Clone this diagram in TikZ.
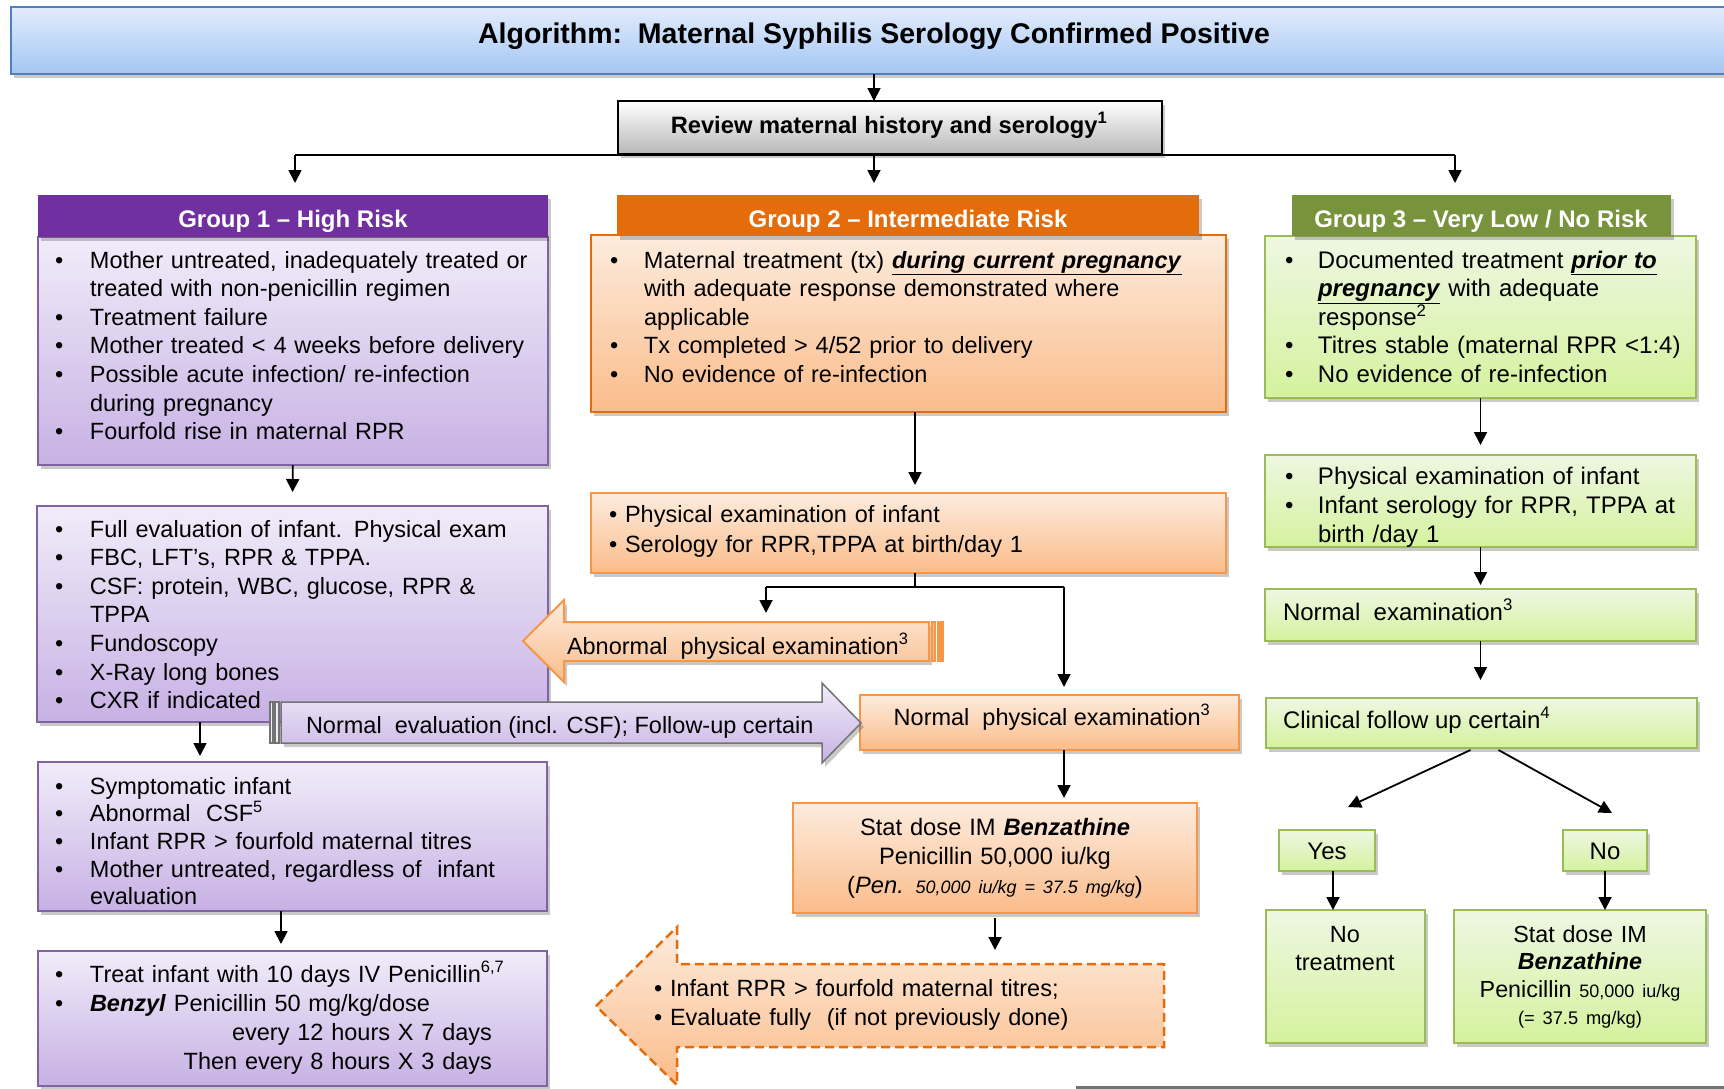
\documentclass[tikz,border=0pt]{standalone}
\usepackage{fontspec}
\setmainfont{Liberation Sans}
\usetikzlibrary{shadows,arrows.meta}
\definecolor{ttop}{RGB}{226,236,252}
\definecolor{tbot}{RGB}{164,198,244}
\definecolor{tbrd}{RGB}{79,129,189}
\definecolor{phead}{RGB}{112,48,160}
\definecolor{ptop}{RGB}{241,236,249}
\definecolor{pbot}{RGB}{199,177,228}
\definecolor{pbrd}{RGB}{128,100,162}
\definecolor{ohead}{RGB}{228,108,10}
\definecolor{otop}{RGB}{253,236,222}
\definecolor{obot}{RGB}{250,188,138}
\definecolor{obrd}{RGB}{228,108,10}
\definecolor{olt}{RGB}{247,150,70}
\definecolor{ghead}{RGB}{119,147,60}
\definecolor{gtop}{RGB}{238,247,226}
\definecolor{gbot}{RGB}{212,242,158}
\definecolor{gbrd}{RGB}{155,187,89}
\newlength\bind
\setlength\bind{35pt}
\newcommand\bfirst[1]{\noindent\hangindent=\bind\hangafter=1\makebox[\bind][l]{\textbullet}\rule{0pt}{22pt}#1}
\newcommand\bitem[1]{\par\bfirst{#1}}
\newcommand\rline[1]{\par\noindent\makebox[437pt][r]{#1}}
\newcommand\mkbox[6]{\node[#2,minimum width={(#5)-(#3)},minimum height={(#6)-(#4)}] (#1) at ({((#3)+(#5))/2},{((#4)+(#6))/2}) {};}
\newcommand\fsb{\fontsize{23.5}{28.6}\selectfont}
\newcommand\fsg{\fontsize{24}{28.6}\selectfont}
\newcommand\fsh{\fontsize{24}{28}\selectfont\bfseries}
\begin{document}
\begin{tikzpicture}[x=1pt,y=-1pt,
  base/.style={rectangle,inner sep=0pt,outer sep=0pt},
  shad/.style={drop shadow={shadow xshift=3pt,shadow yshift=-4pt,opacity=.3,fill=black!70}},
  pbody/.style={base,shad,draw=pbrd,line width=2pt,top color=ptop,bottom color=pbot},
  obody/.style={base,shad,draw=olt,line width=2pt,top color=otop,bottom color=obot},
  gbody/.style={base,shad,draw=gbrd,line width=2pt,top color=gtop,bottom color=gbot},
  txt/.style={anchor=north west,inner sep=0pt,outer sep=0pt,text width=640pt,align=left,font=\fsb},
  ltxt/.style={inner sep=0pt,outer sep=0pt,font=\fsb},
  htxt/.style={anchor=base,inner sep=0pt,text=white,font=\fsh},
  arr/.style={line width=1.8pt,-{Triangle[length=13pt,width=13pt]}},
  ln/.style={line width=1.8pt}]
\useasboundingbox (0,0) rectangle (1724,1088);
\clip (0,0) rectangle (1724,1088);

% title and review
\mkbox{title}{base,shad,draw=tbrd,line width=2pt,top color=ttop,bottom color=tbot}{11}{7}{1760}{74}
\node[anchor=base,inner sep=0pt,font=\fontsize{28.5}{32}\selectfont\bfseries] (titlet) at (874,43) {Algorithm:\ \ Maternal Syphilis Serology Confirmed Positive};
\mkbox{review}{base,shad,draw=black,line width=2pt,top color=white,bottom color=black!28}{618}{101}{1162}{154}
\node[anchor=base,inner sep=0pt,font=\fontsize{23.7}{28}\selectfont\bfseries] (reviewt) at (889,133) {Review maternal history and serology\textsuperscript{1}};

% group bodies and headers
\mkbox{g1b}{pbody}{37.5}{237}{548}{465}
\mkbox{g1h}{base,shad,fill=phead}{37.5}{195}{548}{237}
\node[htxt] (g1ht) at (293,227) {Group 1 -- High Risk};
\mkbox{g2b}{obody,draw=obrd}{591}{235}{1226}{412}
\mkbox{g2h}{base,shad,fill=ohead}{617}{195}{1199}{236}
\node[htxt] (g2ht) at (908,227) {Group 2 -- Intermediate Risk};
\mkbox{g3b}{gbody}{1265}{236}{1696}{398}
\mkbox{g3h}{base,shad,fill=ghead}{1292}{195}{1671}{236}
\node[htxt] (g3ht) at (1481,227) {Group 3 -- Very Low / No Risk};

\node[txt] (g1t) at (55,246) {%
\bfirst{Mother untreated, inadequately treated or\newline treated with non-penicillin regimen}
\bitem{Treatment failure}
\bitem{Mother treated < 4 weeks before delivery}
\bitem{Possible acute infection/ re-infection\newline during pregnancy}
\bitem{Fourfold rise in maternal RPR}\par};

\node[txt] (g2t) at (610,246) {\setlength\bind{34pt}%
\bfirst{Maternal treatment (tx) \underline{\textbf{\textit{during current pregnancy}}}\newline with adequate response demonstrated where\newline applicable}
\bitem{Tx completed > 4/52 prior to delivery}
\bitem{No evidence of re-infection}\par};

\node[txt,font=\fsg] (g3t) at (1285,246) {\setlength\bind{33pt}%
\bfirst{Documented treatment \underline{\textbf{\textit{prior to}}}\newline \underline{\textbf{\textit{pregnancy}}} with adequate\newline response\textsuperscript{2}}
\bitem{Titres stable (maternal RPR <1:4)}
\bitem{No evidence of re-infection}\par};

% group 1 column
\mkbox{fe}{pbody}{37}{506}{548}{722}
\node[txt] (fet) at (55,515) {%
\bfirst{Full evaluation of infant. Physical exam}
\bitem{FBC, LFT’s, RPR \& TPPA.}
\bitem{CSF: protein, WBC, glucose, RPR \&\newline TPPA}
\bitem{Fundoscopy}
\bitem{X-Ray long bones}
\bitem{CXR if indicated}\par};
\mkbox{sym}{pbody}{37.5}{762}{547}{911}
\node[txt,font=\fontsize{23.5}{27.7}\selectfont] (symt) at (55,772) {%
\bfirst{Symptomatic infant}
\bitem{Abnormal\ \ CSF\textsuperscript{5}}
\bitem{Infant RPR > fourfold maternal titres}
\bitem{Mother untreated, regardless of\ \ infant\newline evaluation}\par};
\mkbox{treat}{pbody}{37.5}{951}{547}{1086}
\node[txt,font=\fontsize{23.5}{29}\selectfont] (treatt) at (55,960) {%
\bfirst{Treat infant with 10 days IV Penicillin\textsuperscript{6,7}}
\bitem{\textbf{\textit{Benzyl}} Penicillin 50 mg/kg/dose}
\rline{every 12 hours X 7 days}
\rline{Then every 8 hours X 3 days}\par};

% group 2 column
\mkbox{g2p}{obody}{591}{493}{1226}{573}
\node[txt,font=\fontsize{23.5}{30}\selectfont] (g2pt) at (609,500) {\rule{0pt}{22pt}\textbullet\ Physical examination of infant\newline\textbullet\ Serology for RPR,TPPA at birth/day 1};
\mkbox{nphys}{obody}{860}{695}{1239}{750}
\node[ltxt,anchor=base] (nphyst) at (1052,725) {Normal\ \ physical examination\textsuperscript{3}};
\mkbox{stat2}{obody}{793}{803}{1197}{913}
\node[anchor=north,inner sep=0pt,text width=400pt,align=center,font=\fontsize{23.7}{29}\selectfont] (stat2t) at (995,813) {\rule{0pt}{22pt}Stat dose IM \textbf{\textit{Benzathine}}\\Penicillin 50,000 iu/kg\\(\textit{Pen.} {\fontsize{18}{20}\selectfont\textit{50,000 iu/kg = 37.5 mg/kg}})};

% abnormal arrow
\path[draw=olt,line width=2pt,top color=otop,bottom color=obot,shad] (523,641) -- (564,600) -- (564,622) -- (929,622) -- (929,661) -- (564,661) -- (564,682) -- cycle;
\path[draw=olt,line width=1.5pt,fill=obot] (932,622) rectangle (935,661);
\path[draw=olt,line width=1.5pt,fill=olt] (938,622) rectangle (943,661);
\node[ltxt,anchor=base west] (abnt) at (567,654) {Abnormal\ \ physical examination\textsuperscript{3}};
\coordinate (abtop) at (766,622);

% normal evaluation arrow
\path[draw=black!55,line width=1.5pt,top color=ptop,bottom color=pbot,shad] (281,702) -- (822,702) -- (822,683) -- (861,723) -- (822,763) -- (822,743) -- (281,743) -- cycle;
\path[draw=black!55,line width=1.2pt,fill=ptop] (270,702) rectangle (273,743);
\path[draw=black!55,line width=1.2pt,fill=ptop] (275,702) rectangle (279,743);
\node[ltxt,anchor=base west] (nevt) at (306,733) {Normal\ \ evaluation (incl. CSF); Follow-up certain};

% dashed arrow
\path[draw=ohead,line width=2.5pt,dash pattern=on 9pt off 5pt,top color=otop,bottom color=obot] (596,1006) -- (677,927) -- (677,964) -- (1164,964) -- (1164,1047) -- (677,1047) -- (677,1085) -- cycle;
\node[txt,font=\fontsize{23.5}{29}\selectfont] (dasht) at (654,974) {\rule{0pt}{22pt}\textbullet\ Infant RPR > fourfold maternal titres;\newline\textbullet\ Evaluate fully\ \ (if not previously done)};
\coordinate (dtop) at (995,964);

% group 3 column
\mkbox{g3p}{gbody}{1265}{455}{1696}{547}
\node[txt,font=\fontsize{24}{29}\selectfont] (g3pt) at (1285,462) {\setlength\bind{33pt}%
\bfirst{Physical examination of infant}
\bitem{Infant serology for RPR, TPPA at\newline birth /day 1}\par};
\mkbox{nexam}{gbody}{1265}{589}{1696}{641}
\node[ltxt,anchor=base west,font=\fsg] (nexamt) at (1283,620) {Normal\ \ examination\textsuperscript{3}};
\mkbox{clin}{gbody}{1266}{698}{1697}{748}
\node[ltxt,anchor=base west,font=\fsg] (clint) at (1283,728) {Clinical follow up certain\textsuperscript{4}};
\mkbox{yes}{gbody}{1279}{830}{1375}{871}
\node[ltxt,anchor=base,font=\fsg] (yest) at (1327,859) {Yes};
\mkbox{no}{gbody}{1563}{830}{1647}{871}
\node[ltxt,anchor=base,font=\fsg] (not) at (1605,859) {No};
\mkbox{notreat}{gbody}{1266}{910}{1425}{1043}
\node[anchor=north,inner sep=0pt,text width=150pt,align=center,font=\fontsize{23.5}{28}\selectfont] (notreatt) at (1345,920) {\rule{0pt}{22pt}No\\treatment};
\mkbox{stat3}{gbody}{1454}{910}{1706}{1043}
\node[anchor=north,inner sep=0pt,text width=250pt,align=center,font=\fontsize{23.3}{27.5}\selectfont] (stat3t) at (1580,920) {\rule{0pt}{22pt}Stat dose IM\\\textbf{\textit{Benzathine}}\\Penicillin {\fontsize{18}{20}\selectfont 50,000 iu/kg}\\{\fontsize{18.3}{20}\selectfont (= 37.5 mg/kg)}};

% bottom rule
\draw[line width=3pt,black!55] (1076,1087) -- (1724,1087);

% connectors
\coordinate (cT) at (874,0);
\coordinate (s1) at (295,155);
\coordinate (s3) at (1455,155);
\draw[arr] (title.south -| cT) -- (review.north -| cT);
\draw[ln] (s1) -- (s3);
\draw[arr,shorten >=12pt] (s1) -- (s1 |- g1h.north);
\draw[arr,shorten >=12pt] (review.south -| cT) -- (cT |- g2h.north);
\draw[arr,shorten >=12pt] (s3) -- (s3 |- g3h.north);

\draw[arr,shorten >=14pt] (g1b.south) -- (fe.north);
\coordinate (c200) at (200,0);
\draw[arr,shorten >=6pt] (fe.south -| c200) -- (sym.north -| c200);
\coordinate (c281) at (281,0);
\draw[arr,shorten >=7pt] (sym.south -| c281) -- (treat.north -| c281);

\coordinate (c915) at (915,587);
\coordinate (a1) at (766,587);
\coordinate (a2) at (1064,587);
\draw[arr,shorten >=8pt] (g2b.south -| c915) -- (g2p.north -| c915);
\draw[ln] (g2p.south -| c915) -- (c915);
\draw[ln] (a1) -- (a2);
\draw[arr,shorten >=9pt] (a1) -- (abtop);
\draw[arr,shorten >=8pt] (a2) -- (a2 |- nphys.north);
\draw[arr,shorten >=5pt] (nphys.south -| a2) -- (stat2.north -| a2);
\draw[arr,shorten <=5pt,shorten >=14pt] (stat2.south) -- (dtop);

\draw[arr,shorten >=10pt] (g3b.south) -- (g3p.north);
\draw[arr,shorten >=4pt] (g3p.south) -- (g3p.south |- nexam.north);
\draw[arr,shorten >=18pt] (nexam.south) -- (nexam.south |- clin.north);
\draw[arr] ([xshift=-11pt,yshift=-2pt]clin.south) -- ([xshift=21pt,yshift=23pt]yes.north);
\draw[arr] ([xshift=17pt,yshift=-2pt]clin.south) -- ([xshift=7pt,yshift=17pt]no.north);
\coordinate (c1333) at (1333,0);
\draw[arr] (yes.south -| c1333) -- (notreat.north -| c1333);
\draw[arr] (no.south) -- (no.south |- stat3.north);
\end{tikzpicture}
\end{document}
